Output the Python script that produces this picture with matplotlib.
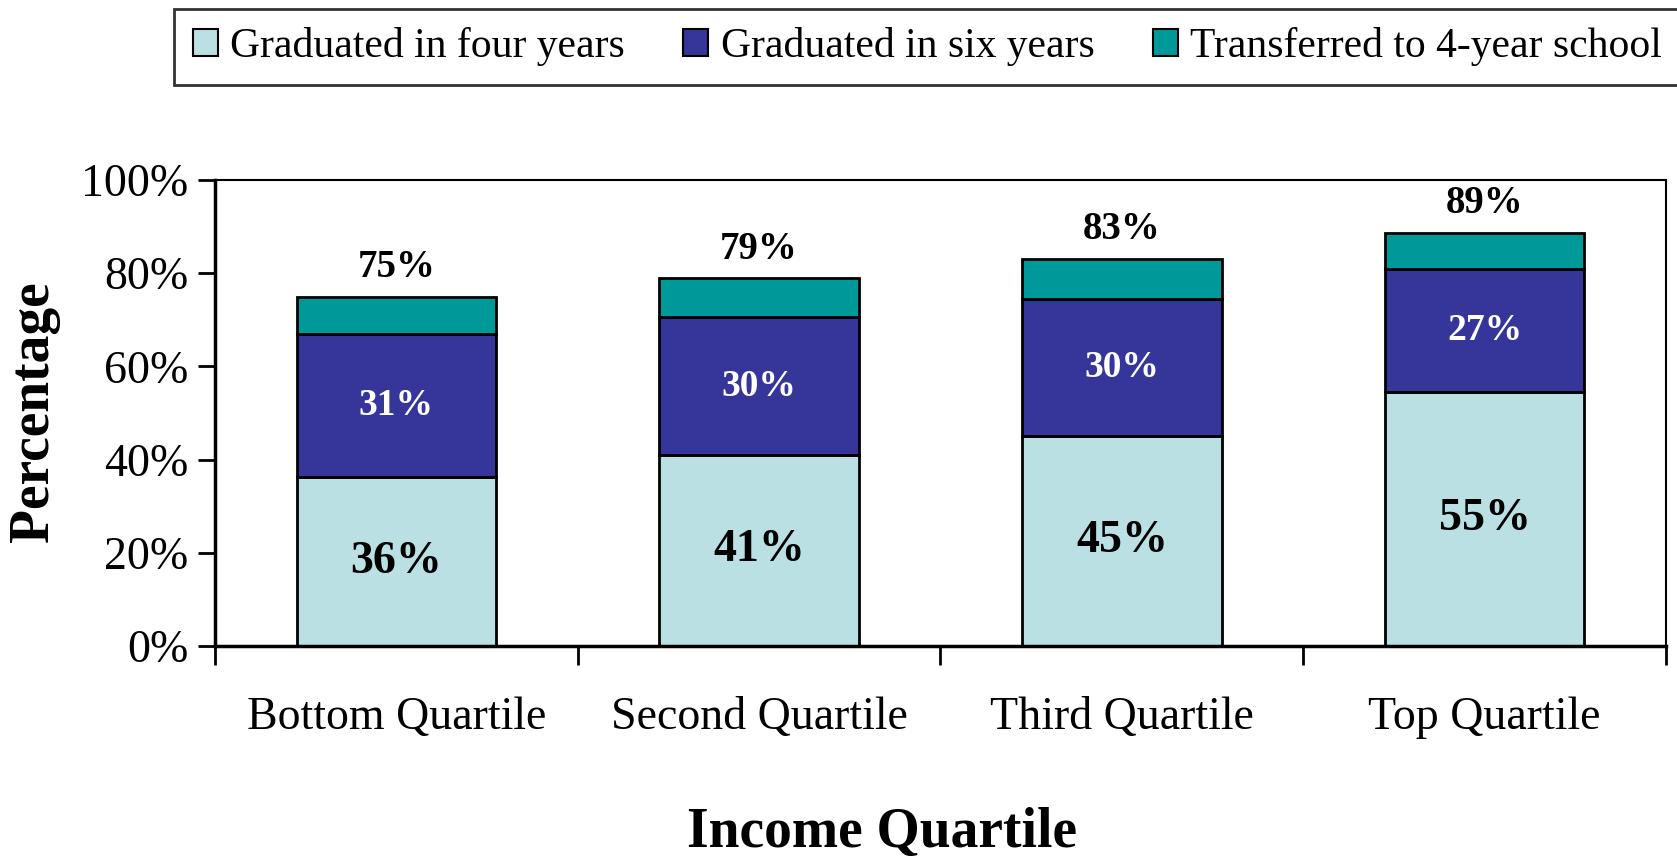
import numpy as np
import matplotlib
matplotlib.use("Agg")
import matplotlib.pyplot as plt
from matplotlib.patches import Patch

plt.rcParams['font.family'] = ['Liberation Serif', 'DejaVu Serif']

# data
quartiles = ['Bottom Quartile', 'Second Quartile', 'Third Quartile', 'Top Quartile']
grad_four = [36.2, 41.0, 45.0, 54.5]
grad_six = [30.8, 29.5, 29.4, 26.5]
transfer = [8.0, 8.4, 8.7, 7.6]
four_labels = ['36%', '41%', '45%', '55%']
six_labels = ['31%', '30%', '30%', '27%']
total_labels = ['75%', '79%', '83%', '89%']

series_names = ['Graduated in four years', 'Graduated in six years', 'Transferred to 4-year school']
colors = ['#BBE0E3', '#363599', '#009999']

fig = plt.figure(figsize=(16.77, 8.61), dpi=100)
ax = fig.add_axes([0.1282, 0.2497, 0.8652, 0.5412])

x = np.arange(len(quartiles))
w = 0.55
four = np.array(grad_four)
six = np.array(grad_six)
tr = np.array(transfer)

ax.bar(x, four, w, color=colors[0], edgecolor='black', linewidth=2)
ax.bar(x, six, w, bottom=four, color=colors[1], edgecolor='black', linewidth=2)
ax.bar(x, tr, w, bottom=four + six, color=colors[2], edgecolor='black', linewidth=2)

for i in range(len(x)):
    ax.text(x[i], four[i] / 2, four_labels[i], ha='center', va='center',
            fontsize=33, fontweight='bold', color='black')
    ax.text(x[i], four[i] + six[i] / 2, six_labels[i], ha='center', va='center',
            fontsize=27, fontweight='bold', color='white')
    ax.annotate(total_labels[i], (x[i], four[i] + six[i] + tr[i]),
                xytext=(0, 21), textcoords='offset points', ha='center', va='center',
                fontsize=28, fontweight='bold', color='black')

ax.set_xlim(-0.5, 3.5)
ax.set_ylim(0, 100)
ax.set_yticks(np.arange(0, 101, 20))
ax.set_yticklabels([f'{v}%' for v in range(0, 101, 20)], fontsize=33)
ax.set_xticks(x)
ax.set_xticklabels(quartiles, fontsize=33)
ax.set_xticks(np.arange(-0.5, 4, 1), minor=True)
ax.tick_params(axis='x', which='major', length=0, pad=36)
ax.tick_params(axis='x', which='minor', length=14, width=2, direction='out')
ax.tick_params(axis='y', length=12, width=2, direction='out', pad=7)

for side in ['left', 'bottom']:
    ax.spines[side].set_linewidth(2.5)
for side in ['top', 'right']:
    ax.spines[side].set_linewidth(1.5)

fig.text(0.526, 0.032, 'Income Quartile', ha='center', va='center',
         fontsize=40, fontweight='bold')
fig.text(0.02, 0.5215, 'Percentage', ha='center', va='center', rotation=90,
         fontsize=40, fontweight='bold')

handles = [Patch(facecolor=c, edgecolor='black', linewidth=1.5) for c in colors]
leg = fig.legend(handles, series_names, loc='upper center', ncol=3,
                 bbox_to_anchor=(0.553, 0.99), borderaxespad=0, fontsize=30, frameon=True,
                 fancybox=False, edgecolor='black', handlelength=0.6, handleheight=0.6,
                 handletextpad=0.3, columnspacing=1.4, borderpad=0.45)
leg.get_frame().set_linewidth(2)

fig.savefig('out.png', dpi=100)
